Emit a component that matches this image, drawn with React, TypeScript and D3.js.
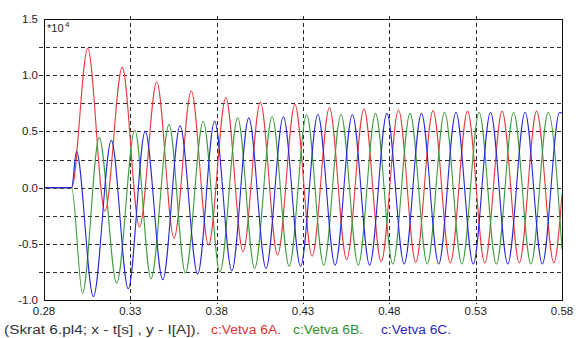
import React from 'react';
import * as d3 from 'd3';

// extrema, [t (s), I (*10^4 A)]
const phaseA: [number, number][] = [
  [0.28, 0], [0.296, 0],
  [0.3053, 1.24], [0.3153, -0.21], [0.3253, 1.07], [0.3353, -0.35],
  [0.3453, 0.94], [0.3553, -0.45], [0.3653, 0.86], [0.3753, -0.51],
  [0.3853, 0.80], [0.3953, -0.57], [0.4053, 0.76], [0.4153, -0.60],
  [0.4253, 0.74], [0.4353, -0.61], [0.4453, 0.71], [0.4553, -0.64],
  [0.4653, 0.70], [0.4753, -0.66], [0.4853, 0.69], [0.4953, -0.665],
  [0.5053, 0.685], [0.5153, -0.67], [0.5253, 0.68], [0.5353, -0.67],
  [0.5453, 0.68], [0.5553, -0.67], [0.5653, 0.68], [0.5753, -0.67],
  [0.58, -0.06],
];

const phaseB: [number, number][] = [
  [0.28, 0], [0.296, 0],
  [0.3023, -0.94], [0.312, 0.445], [0.3221, -0.85], [0.3326, 0.51],
  [0.342, -0.81], [0.3524, 0.56], [0.3619, -0.76], [0.3722, 0.59],
  [0.3819, -0.75], [0.3922, 0.62], [0.402, -0.72], [0.4121, 0.63],
  [0.422, -0.70], [0.4321, 0.65], [0.442, -0.69], [0.452, 0.65],
  [0.462, -0.69], [0.472, 0.66], [0.482, -0.68], [0.492, 0.66],
  [0.502, -0.68], [0.512, 0.67], [0.522, -0.68], [0.532, 0.67],
  [0.542, -0.68], [0.552, 0.67], [0.562, -0.68], [0.572, 0.67],
  [0.58, -0.55],
];

const phaseC: [number, number][] = [
  [0.28, 0], [0.296, 0],
  [0.2988, 0.32], [0.3086, -0.97], [0.319, 0.42], [0.3288, -0.90],
  [0.3386, 0.50], [0.3488, -0.82], [0.3588, 0.55], [0.369, -0.77],
  [0.3788, 0.59], [0.3888, -0.74], [0.3986, 0.62], [0.4086, -0.72],
  [0.4186, 0.63], [0.4286, -0.70], [0.4386, 0.65], [0.4486, -0.69],
  [0.4586, 0.65], [0.4686, -0.69], [0.4786, 0.66], [0.4886, -0.68],
  [0.4986, 0.66], [0.5086, -0.68], [0.5186, 0.67], [0.5286, -0.68],
  [0.5386, 0.67], [0.5486, -0.68], [0.5586, 0.67], [0.5686, -0.68],
  [0.5786, 0.67], [0.58, 0.66],
];

const xTicks = [0.28, 0.33, 0.38, 0.43, 0.48, 0.53, 0.58];
const yTicks = [-1.0, -0.5, 0.0, 0.5, 1.0, 1.5];
const yGrid = [-0.75, -0.5, -0.25, 0, 0.25, 0.5, 0.75, 1.0, 1.25];
const xGrid = [0.33, 0.38, 0.43, 0.48, 0.53];

const series = [
  { name: 'c:Vetva 6A.', data: phaseA, color: '#e8383c', text: '#e03434', lx: 211 },
  { name: 'c:Vetva 6B.', data: phaseB, color: '#3c9c3c', text: '#2e922e', lx: 293 },
  { name: 'c:Vetva 6C.', data: phaseC, color: '#2828d8', text: '#2828c8', lx: 381 },
];

const W = 582, H = 338;
const L = 44, R = 562, T = 19, B = 300;
const font = 'Arial, "Liberation Sans", sans-serif';

export default function App() {
  const x = d3.scaleLinear().domain([0.28, 0.58]).range([L, R]);
  const y = d3.scaleLinear().domain([-1.0, 1.5]).range([B, T]);
  const line = d3.line<[number, number]>()
    .x(d => x(d[0]))
    .y(d => y(d[1]))
    .curve(d3.curveMonotoneX);

  return (
    <div style={{ position: 'absolute', left: 0, top: 0, background: '#fff' }}>
      <svg width={W} height={H} style={{ display: 'block' }}>
        <rect width={W} height={H} fill="#fff" />
        <defs>
          <clipPath id="plot">
            <rect x={L} y={T} width={R - L} height={B - T} />
          </clipPath>
        </defs>

        {/* dashed grid, sticking out a little past the frame */}
        <g stroke="#2a2a2a" strokeWidth={1} strokeDasharray="4,3">
          {yGrid.map(v => (
            <line key={'h' + v} x1={L - 5} x2={R} y1={Math.round(y(v)) + 0.5} y2={Math.round(y(v)) + 0.5} />
          ))}
          {xGrid.map(v => (
            <line key={'v' + v} x1={Math.round(x(v)) + 0.5} x2={Math.round(x(v)) + 0.5} y1={T - 3} y2={B + 4} />
          ))}
        </g>

        <g clipPath="url(#plot)" fill="none" strokeWidth={1.1}>
          {series.map(s => (
            <path key={s.name} d={line(s.data) || ''} stroke={s.color} />
          ))}
        </g>

        <rect x={L + 0.5} y={T + 0.5} width={R - L} height={B - T} fill="none" stroke="#111" strokeWidth={1} />

        <g fontFamily={font} fontSize={11.5} fill="#222">
          {yTicks.map(v => (
            <text key={v} x={L - 6} y={y(v) + 4} textAnchor="end">{v.toFixed(1)}</text>
          ))}
          {xTicks.map(v => (
            <text key={v} x={x(v)} y={315} textAnchor="middle">{v.toFixed(2)}</text>
          ))}
          <text x={47} y={32} fontSize={11}>*10</text>
          <text x={65} y={27} fontSize={8}>4</text>
        </g>

        <g fontFamily={font} fontSize={12.5}>
          <text x={4} y={334} fill="#333" textLength={196} lengthAdjust="spacingAndGlyphs">
            (Skrat 6.pl4; x - t[s] , y - I[A]).
          </text>
          {series.map(s => (
            <text key={s.name} x={s.lx} y={334} fill={s.text} textLength={70} lengthAdjust="spacingAndGlyphs">{s.name}</text>
          ))}
        </g>
      </svg>
    </div>
  );
}
